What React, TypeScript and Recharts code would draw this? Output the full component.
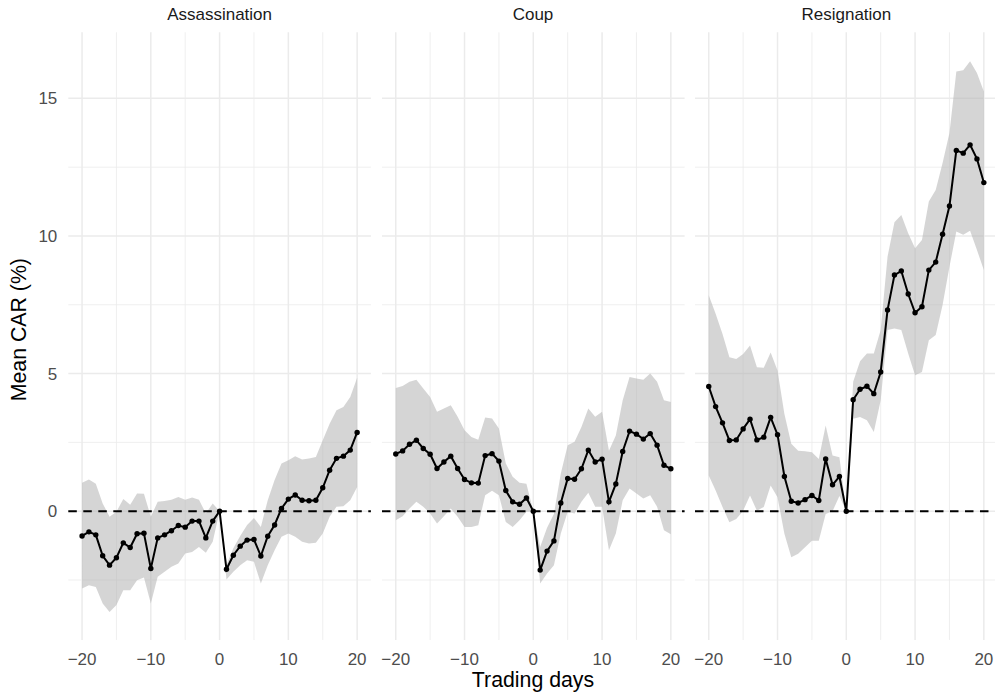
import React from "react";
import {
  ComposedChart,
  Area,
  Line,
  XAxis,
  YAxis,
  CartesianGrid,
  ReferenceLine,
} from "recharts";

// Event window, trading days relative to the event
const days = [
  -20, -19, -18, -17, -16, -15, -14, -13, -12, -11, -10, -9, -8, -7, -6, -5, -4, -3, -2, -1, 0,
  1, 2, 3, 4, 5, 6, 7, 8, 9, 10, 11, 12, 13, 14, 15, 16, 17, 18, 19, 20,
];

const panelTitles = ["Assassination", "Coup", "Resignation"];

// Assassination: mean CAR and confidence band (%)
const assassinationMean = [
  -0.9, -0.75, -0.86, -1.62, -1.96, -1.69, -1.15, -1.32, -0.82, -0.8, -2.08, -0.97, -0.86, -0.71,
  -0.52, -0.58, -0.36, -0.36, -0.97, -0.36, 0, -2.11, -1.6, -1.27, -1.05, -1.03, -1.63, -0.91,
  -0.5, 0.1, 0.44, 0.59, 0.4, 0.38, 0.4, 0.85, 1.49, 1.92, 2.0, 2.22, 2.86,
];
const assassinationLow = [
  -2.81, -2.69, -2.75, -3.35, -3.66, -3.41, -2.87, -2.87, -2.51, -2.41, -3.35, -2.38, -2.2, -2.02,
  -1.9, -1.54, -1.48, -1.3, -1.51, -1.11, 0, -2.48, -2.2, -1.96, -1.78, -1.84, -2.63, -1.96, -1.42,
  -0.93, -0.81, -0.93, -1.11, -1.17, -1.15, -0.81, -0.2, 0.16, 0.18, 0.4, 0.88,
];
const assassinationHigh = [
  1.03, 1.15, 1.0, 0.28, -0.2, -0.02, 0.44, 0.23, 0.64, 0.63, -0.2, 0.34, 0.37, 0.42, 0.52, 0.42,
  0.5, 0.42, -0.08, 0.28, 0, -1.95, -1.35, -0.9, -0.5, -0.25, -0.57, 0.4, 1.13, 1.73, 1.85, 2.0,
  1.88, 1.91, 1.97, 2.58, 3.18, 3.67, 3.79, 4.15, 4.85,
];

// Coup: mean CAR and confidence band (%)
const coupMean = [
  2.08, 2.19, 2.43, 2.58, 2.28, 2.07, 1.55, 1.79, 2.0, 1.55, 1.15, 1.03, 1.02, 2.02, 2.09, 1.82,
  0.75, 0.34, 0.25, 0.48, 0, -2.14, -1.45, -1.08, 0.3, 1.19, 1.16, 1.54, 2.22, 1.79, 1.89, 0.34,
  0.99, 2.17, 2.91, 2.8, 2.62, 2.82, 2.4, 1.67, 1.54,
];
const coupLow = [
  -0.33, -0.18, 0.1, 0.34, 0.16, -0.08, -0.45, -0.18, 0.1, -0.2, -0.57, -0.57, -0.51, 0.58, 0.74,
  0.58, -0.39, -0.57, -0.33, -0.02, 0, -2.63, -2.26, -1.96, -0.81, -0.02, -0.08, 0.34, 0.67, 0.16,
  0.16, -1.42, -0.81, 0.4, 0.82, 0.64, 0.46, 0.58, 0.16, -0.69, -0.84,
];
const coupHigh = [
  4.48, 4.55, 4.7, 4.78, 4.46, 4.15, 3.61, 3.73, 3.85, 3.43, 2.94, 2.7, 2.6, 3.4, 3.37, 3.0, 1.73,
  1.25, 1.03, 1.0, 0, -1.3, -0.6, -0.1, 1.37, 2.4, 2.52, 3.06, 3.73, 3.43, 3.61, 2.2, 2.75, 4.03,
  4.88, 4.82, 4.78, 5.0, 4.7, 4.03, 3.97,
];

// Resignation: mean CAR and confidence band (%)
const resignationMean = [
  4.53, 3.8, 3.21, 2.57, 2.59, 2.99, 3.34, 2.59, 2.69, 3.41, 2.78, 1.26, 0.36, 0.3, 0.42, 0.57,
  0.39, 1.9, 0.96, 1.26, 0, 4.05, 4.43, 4.54, 4.27, 5.06, 7.31, 8.58, 8.73, 7.89, 7.21, 7.43, 8.76,
  9.05, 10.06, 11.09, 13.11, 13.01, 13.31, 12.8, 11.94,
];
const resignationLow = [
  1.3, 0.75, 0.15, -0.4, -0.28, 0.02, 0.57, 0.02, 0.15, 0.93, 0.51, -0.82, -1.67, -1.55, -1.31,
  -1.07, -1.07, -0.1, 0.0, 0.55, 0, 3.36, 3.42, 3.3, 2.88, 4.03, 6.58, 6.64, 6.58, 5.73, 4.94,
  5.06, 6.21, 6.4, 7.49, 8.88, 10.16, 10.04, 10.19, 9.49, 8.76,
];
const resignationHigh = [
  7.85, 7.17, 6.44, 5.59, 5.53, 5.71, 6.02, 5.23, 5.21, 5.77, 5.11, 3.53, 2.45, 2.2, 2.18, 2.14,
  1.9, 3.11, 2.02, 1.96, 0, 4.7, 5.45, 5.73, 5.73, 6.58, 9.25, 10.5, 10.76, 10.1, 9.55, 9.85,
  11.25, 11.67, 12.65, 13.74, 15.98, 16.02, 16.35, 15.92, 15.25,
];

const xTicks = [-20, -10, 0, 10, 20];
const xMinor = [-15, -5, 5, 15];
const yTicks = [0, 5, 10, 15];
const yMinor = [-2.5, 2.5, 7.5, 12.5];

const FONT = "'Liberation Sans', Arial, Helvetica, sans-serif";
const TICK_SIZE = 17;
const STRIP_SIZE = 17;
const TITLE_SIZE = 21.3;

// layout of the three facets
const PANEL_W = 302.6;
const PANEL_LEFT = [68.3, 381.7, 695.1];
const PAD = 8;
const TOP = 32.3;
const X_AXIS_H = 54;
const Y_AXIS_W = 68.3;
const HEIGHT = 694;

const buildRows = (mean: number[], low: number[], high: number[]) =>
  days.map((d, i) => ({ day: d, mean: mean[i], band: [low[i], high[i]] }));

const panels = [
  buildRows(assassinationMean, assassinationLow, assassinationHigh),
  buildRows(coupMean, coupLow, coupHigh),
  buildRows(resignationMean, resignationLow, resignationHigh),
];

const fmt = (v: number) => (v < 0 ? "\u2212" + Math.abs(v) : String(v));

const XTick = (props: any) => {
  const { x, y, payload } = props;
  return (
    <text x={x} y={y} dy="0.71em" textAnchor="middle" fill="#4D4D4D" fontSize={TICK_SIZE} fontFamily={FONT}>
      {fmt(payload.value)}
    </text>
  );
};

const YTick = (props: any) => {
  const { x, y, payload } = props;
  return (
    <text x={x} y={y} dy="0.36em" textAnchor="end" fill="#4D4D4D" fontSize={TICK_SIZE} fontFamily={FONT}>
      {fmt(payload.value)}
    </text>
  );
};

function Panel({ index }: { index: number }) {
  const first = index === 0;
  const left = first ? 0 : PANEL_LEFT[index] - PAD;
  const width = first ? Y_AXIS_W + PANEL_W + PAD : PANEL_W + 2 * PAD;
  return (
    <div style={{ position: "absolute", left, top: 0, width, height: HEIGHT }}>
      <ComposedChart
        width={width}
        height={HEIGHT}
        data={panels[index]}
        margin={{ top: TOP, right: PAD, bottom: 0, left: first ? 0 : PAD }}
      >
        <CartesianGrid
          horizontalValues={yMinor}
          verticalValues={xMinor}
          stroke="#EBEBEB"
          strokeWidth={0.8}
        />
        <CartesianGrid
          horizontalValues={yTicks}
          verticalValues={xTicks}
          stroke="#EBEBEB"
          strokeWidth={1.5}
        />
        <XAxis
          dataKey="day"
          type="number"
          domain={[-22, 22]}
          ticks={xTicks}
          allowDataOverflow
          axisLine={false}
          tickLine={false}
          tickSize={0}
          tickMargin={13}
          height={X_AXIS_H}
          tick={<XTick />}
          interval={0}
        />
        <YAxis
          type="number"
          domain={[-4.68, 17.4]}
          ticks={yTicks}
          allowDataOverflow
          axisLine={false}
          tickLine={false}
          tickSize={0}
          tickMargin={11}
          width={Y_AXIS_W}
          hide={!first}
          tick={<YTick />}
          interval={0}
        />
        <Area
          type="linear"
          dataKey="band"
          stroke="none"
          fill="#B3B3B3"
          fillOpacity={0.55}
          dot={false}
          activeDot={false}
          isAnimationActive={false}
        />
        <ReferenceLine y={0} stroke="#000" strokeWidth={2} strokeDasharray="8.5 6.5" />
        <Line
          type="linear"
          dataKey="mean"
          stroke="#000"
          strokeWidth={2}
          dot={{ r: 2.7, fill: "#000", stroke: "none" }}
          activeDot={false}
          isAnimationActive={false}
        />
      </ComposedChart>
    </div>
  );
}

export default function App() {
  return (
    <div
      style={{
        position: "fixed",
        left: 0,
        top: 0,
        width: 995,
        height: HEIGHT,
        overflow: "hidden",
        background: "#fff",
        fontFamily: FONT,
      }}
    >
      {[0, 1, 2].map((i) => (
        <Panel key={i} index={i} />
      ))}
      {panelTitles.map((t, i) => (
        <div
          key={t}
          style={{
            position: "absolute",
            left: PANEL_LEFT[i] + PANEL_W / 2 - 100,
            top: 6.3,
            width: 200,
            textAlign: "center",
            fontSize: STRIP_SIZE,
            lineHeight: `${STRIP_SIZE}px`,
            color: "#1A1A1A",
          }}
        >
          {t}
        </div>
      ))}
      <div
        style={{
          position: "absolute",
          left: 533 - 100,
          top: 669.6,
          width: 200,
          textAlign: "center",
          fontSize: TITLE_SIZE,
          lineHeight: `${TITLE_SIZE}px`,
          color: "#000",
        }}
      >
        Trading days
      </div>
      <div
        style={{
          position: "absolute",
          left: 19.6 - 100,
          top: 330 - TITLE_SIZE / 2,
          width: 200,
          height: TITLE_SIZE,
          textAlign: "center",
          fontSize: TITLE_SIZE,
          lineHeight: `${TITLE_SIZE}px`,
          color: "#000",
          transform: "rotate(-90deg)",
        }}
      >
        Mean CAR (%)
      </div>
    </div>
  );
}
